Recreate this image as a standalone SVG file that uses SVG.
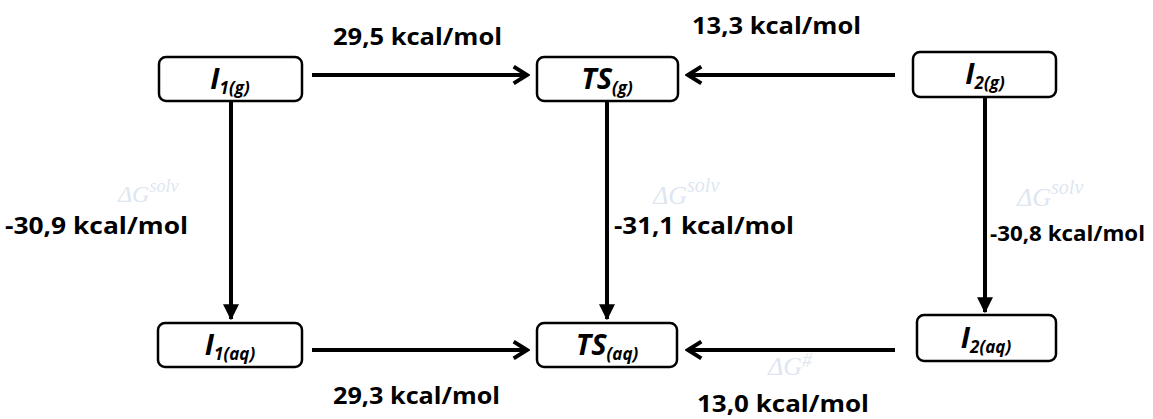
<svg xmlns="http://www.w3.org/2000/svg" width="1153" height="419" viewBox="0 0 1153 419">
<defs>
<style>
.box{fill:#fff;stroke:#000;stroke-width:2.5}
.lbl{font-family:"Open Sans","Liberation Sans",sans-serif;font-weight:bold;font-style:italic;fill:#000}
.big{font-size:29px}
.sub{font-size:17px}
.en{font-family:"Open Sans","Liberation Sans",sans-serif;font-weight:bold;font-size:24px;fill:#000}
.sm{font-size:20.5px}
.con{stroke:#000;stroke-width:4;fill:none}
.wm{font-family:"Liberation Serif",serif;font-style:italic;fill:#9fb8d8;opacity:0.35}
</style>
<marker id="ah" viewBox="0 0 12 12" refX="10" refY="6" markerWidth="5" markerHeight="5" orient="auto" markerUnits="strokeWidth">
<path d="M2,1 L10,6 L2,11" fill="none" stroke="#000" stroke-width="2.4" stroke-linejoin="miter"/>
</marker>
<marker id="ahd" viewBox="0 0 12 12" refX="11" refY="6" markerWidth="4" markerHeight="4" orient="auto" markerUnits="strokeWidth">
<path d="M0,0 L12,6 L0,12 Z" fill="#000"/>
</marker>
</defs>
<g id="watermarks">
<text class="wm" x="118" y="202" font-size="24">ΔG<tspan font-size="18" dy="-10">solv</tspan></text>
<text class="wm" x="653" y="204" font-size="26">ΔG<tspan font-size="20" dy="-12">solv</tspan></text>
<text class="wm" x="1017" y="206" font-size="26">ΔG<tspan font-size="20" dy="-12">solv</tspan></text>
<text class="wm" x="768" y="375" font-size="26">ΔG<tspan font-size="20" dy="-8">#</tspan></text>
</g>
<g id="connectors">
<line class="con" x1="312" y1="75" x2="527" y2="75" marker-end="url(#ah)"/>
<line class="con" x1="895" y1="75" x2="688" y2="75" marker-end="url(#ah)"/>
<line class="con" x1="312" y1="350" x2="527" y2="350" marker-end="url(#ah)"/>
<line class="con" x1="895" y1="350" x2="688" y2="350" marker-end="url(#ah)"/>
<line class="con" x1="231" y1="102" x2="231" y2="319" marker-end="url(#ahd)"/>
<line class="con" x1="607" y1="102" x2="607" y2="319" marker-end="url(#ahd)"/>
<line class="con" x1="985" y1="97" x2="985" y2="312" marker-end="url(#ahd)"/>
</g>
<g id="edge-labels">
<text class="en" x="333" y="45" textLength="169" lengthAdjust="spacingAndGlyphs">29,5 kcal/mol</text>
<text class="en" x="692" y="34" textLength="169" lengthAdjust="spacingAndGlyphs">13,3 kcal/mol</text>
<text class="en" x="5" y="234" textLength="183" lengthAdjust="spacingAndGlyphs">-30,9 kcal/mol</text>
<text class="en" x="614" y="234" textLength="180" lengthAdjust="spacingAndGlyphs">-31,1 kcal/mol</text>
<text class="en sm" x="990" y="241" textLength="155" lengthAdjust="spacingAndGlyphs">-30,8 kcal/mol</text>
<text class="en" x="333" y="404" textLength="167" lengthAdjust="spacingAndGlyphs">29,3 kcal/mol</text>
<text class="en" x="697" y="412" textLength="172" lengthAdjust="spacingAndGlyphs">13,0 kcal/mol</text>
</g>
<g id="I1g"><rect class="box" x="159" y="57" width="143" height="44" rx="7"/>
<text class="lbl" x="230" y="89" text-anchor="middle"><tspan class="big">I</tspan><tspan class="sub" dy="5">1(g)</tspan></text></g>
<g id="TSg"><rect class="box" x="537" y="57" width="141" height="44" rx="7"/>
<text class="lbl" x="607" y="89" text-anchor="middle"><tspan class="big">TS</tspan><tspan class="sub" dy="5">(g)</tspan></text></g>
<g id="I2g"><rect class="box" x="913" y="52" width="143" height="45" rx="7"/>
<text class="lbl" x="985" y="84" text-anchor="middle"><tspan class="big">I</tspan><tspan class="sub" dy="5">2(g)</tspan></text></g>
<g id="I1aq"><rect class="box" x="158" y="323" width="144" height="44" rx="7"/>
<text class="lbl" x="230" y="355" text-anchor="middle"><tspan class="big">I</tspan><tspan class="sub" dy="5">1(aq)</tspan></text></g>
<g id="TSaq"><rect class="box" x="537" y="323" width="140" height="44" rx="7"/>
<text class="lbl" x="607" y="355" text-anchor="middle"><tspan class="big">TS</tspan><tspan class="sub" dy="5">(aq)</tspan></text></g>
<g id="I2aq"><rect class="box" x="917" y="315" width="139" height="46" rx="7"/>
<text class="lbl" x="986" y="348" text-anchor="middle"><tspan class="big">I</tspan><tspan class="sub" dy="5">2(aq)</tspan></text></g>
</svg>
